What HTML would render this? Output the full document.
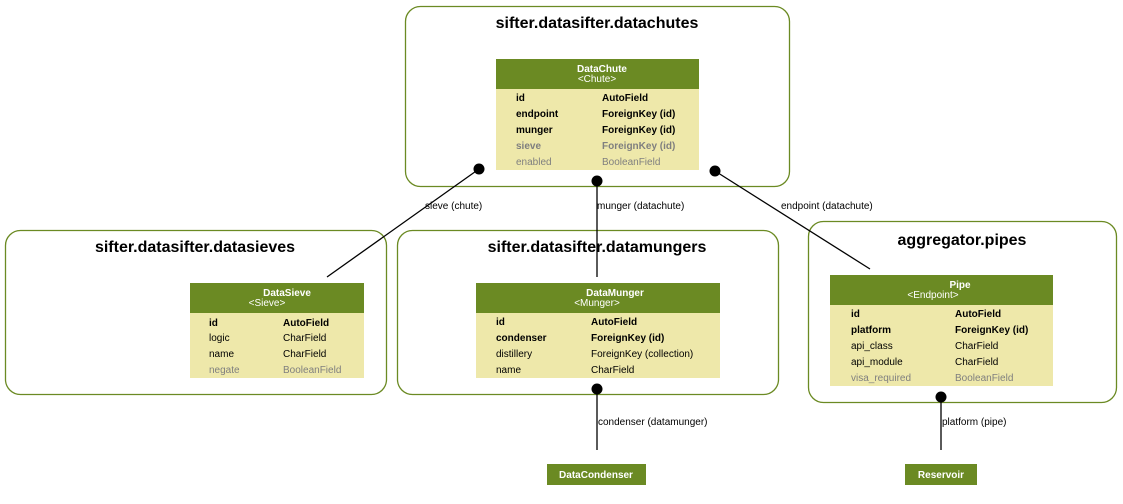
<!DOCTYPE html>
<html><head><meta charset="utf-8"><style>body{margin:0;background:#fff}svg{display:block}</style></head>
<body>
<svg width="1123" height="504" viewBox="0 0 1123 504" xmlns="http://www.w3.org/2000/svg" font-family="Liberation Sans, sans-serif">
<g fill="none" stroke="#6b8a23" stroke-width="1.3">
<rect x="405.5" y="6.5" width="384" height="180" rx="15"/>
<rect x="5.5" y="230.5" width="381" height="164" rx="15"/>
<rect x="397.5" y="230.5" width="381" height="164" rx="15"/>
<rect x="808.5" y="221.5" width="308" height="181" rx="15"/>
</g>
<g font-weight="bold" font-size="16" text-anchor="middle" fill="#000">
<text x="597" y="28">sifter.datasifter.datachutes</text>
<text x="195" y="252">sifter.datasifter.datasieves</text>
<text x="597" y="252">sifter.datasifter.datamungers</text>
<text x="962" y="245">aggregator.pipes</text>
</g>
<!-- tables -->
<g>
<rect x="496" y="89" width="203" height="81" fill="#eee8aa"/><rect x="496" y="59" width="203" height="30" fill="#6b8a23"/>
<rect x="190" y="313" width="174" height="65" fill="#eee8aa"/><rect x="190" y="283" width="174" height="30" fill="#6b8a23"/>
<rect x="476" y="313" width="244" height="65" fill="#eee8aa"/><rect x="476" y="283" width="244" height="30" fill="#6b8a23"/>
<rect x="830" y="305" width="223" height="81" fill="#eee8aa"/><rect x="830" y="275" width="223" height="30" fill="#6b8a23"/>
<rect x="547" y="464" width="99" height="21" fill="#6b8a23"/>
<rect x="905" y="464" width="72" height="21" fill="#6b8a23"/>
</g>
<g fill="#fff" font-size="10" text-anchor="middle">
<text x="602" y="72" font-weight="bold">DataChute</text><text x="597" y="82">&lt;Chute&gt;</text>
<text x="287" y="296" font-weight="bold">DataSieve</text><text x="267" y="306">&lt;Sieve&gt;</text>
<text x="615" y="296" font-weight="bold">DataMunger</text><text x="597" y="306">&lt;Munger&gt;</text>
<text x="960" y="288" font-weight="bold">Pipe</text><text x="933" y="298">&lt;Endpoint&gt;</text>
<text x="596" y="478" font-weight="bold">DataCondenser</text>
<text x="941" y="478" font-weight="bold">Reservoir</text>
</g>
<g font-size="10" fill="#000">
<g font-weight="bold"><text x="516" y="101">id</text><text x="602" y="101">AutoField</text>
<text x="516" y="117">endpoint</text><text x="602" y="117">ForeignKey (id)</text>
<text x="516" y="133">munger</text><text x="602" y="133">ForeignKey (id)</text>
<text x="516" y="149" fill="#7f7f7f">sieve</text><text x="602" y="149" fill="#7f7f7f">ForeignKey (id)</text></g>
<text x="516" y="165" fill="#7f7f7f">enabled</text><text x="602" y="165" fill="#7f7f7f">BooleanField</text>

<text x="209" y="326" font-weight="bold">id</text><text x="283" y="326" font-weight="bold">AutoField</text>
<text x="209" y="341">logic</text><text x="283" y="341">CharField</text>
<text x="209" y="357">name</text><text x="283" y="357">CharField</text>
<text x="209" y="373" fill="#7f7f7f">negate</text><text x="283" y="373" fill="#7f7f7f">BooleanField</text>

<text x="496" y="325" font-weight="bold">id</text><text x="591" y="325" font-weight="bold">AutoField</text>
<text x="496" y="341" font-weight="bold">condenser</text><text x="591" y="341" font-weight="bold">ForeignKey (id)</text>
<text x="496" y="357">distillery</text><text x="591" y="357">ForeignKey (collection)</text>
<text x="496" y="373">name</text><text x="591" y="373">CharField</text>

<text x="851" y="317" font-weight="bold">id</text><text x="955" y="317" font-weight="bold">AutoField</text>
<text x="851" y="333" font-weight="bold">platform</text><text x="955" y="333" font-weight="bold">ForeignKey (id)</text>
<text x="851" y="349">api_class</text><text x="955" y="349">CharField</text>
<text x="851" y="365">api_module</text><text x="955" y="365">CharField</text>
<text x="851" y="381" fill="#7f7f7f">visa_required</text><text x="955" y="381" fill="#7f7f7f">BooleanField</text>

<text x="425" y="209">sieve (chute)</text>
<text x="597" y="209">munger (datachute)</text>
<text x="781" y="209">endpoint (datachute)</text>
<text x="598" y="425">condenser (datamunger)</text>
<text x="942" y="425">platform (pipe)</text>
</g>
<g stroke="#000" stroke-width="1.3" fill="none">
<line x1="479" y1="169" x2="327" y2="277"/>
<line x1="597" y1="181" x2="597" y2="277"/>
<line x1="715" y1="171" x2="870" y2="269"/>
<line x1="597" y1="389" x2="597" y2="450"/>
<line x1="941" y1="397" x2="941" y2="450"/>
</g>
<g fill="#000">
<circle cx="479" cy="169" r="5.5"/><circle cx="597" cy="181" r="5.5"/><circle cx="715" cy="171" r="5.5"/>
<circle cx="597" cy="389" r="5.5"/><circle cx="941" cy="397" r="5.5"/>
</g>
</svg>
</body></html>
